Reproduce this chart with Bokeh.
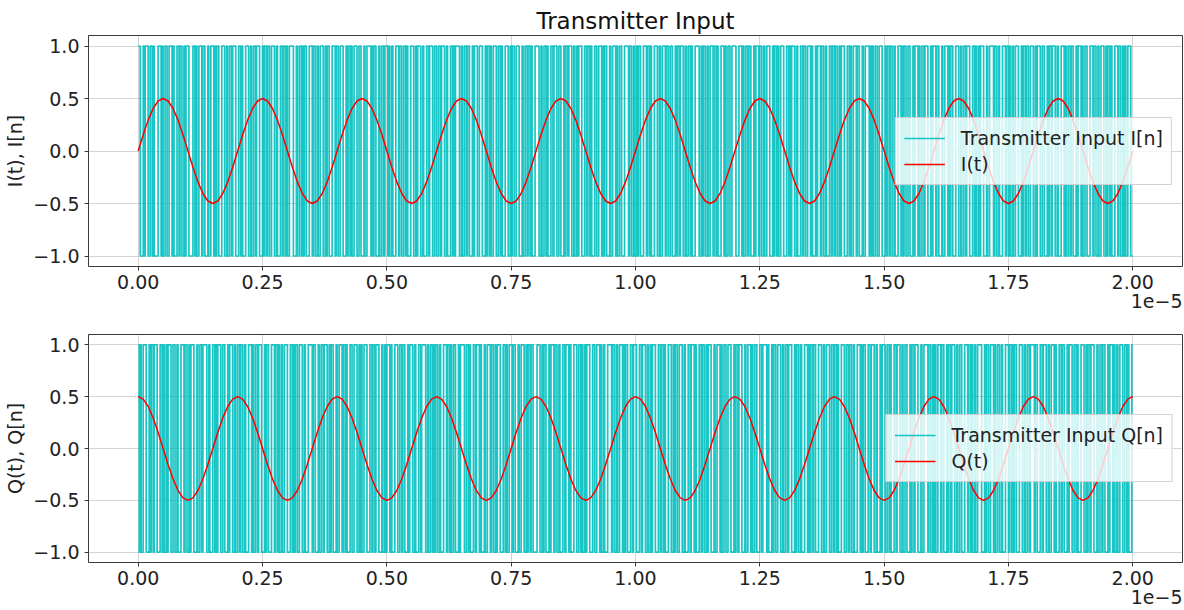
import numpy as np
from bokeh.plotting import figure
from bokeh.layouts import column
from bokeh.models import (FixedTicker, CustomJSTickFormatter, Range1d, Title,
                          Legend, LegendItem)
from bokeh.embed import file_html
from bokeh.resources import INLINE

# ---------------- data ----------------
T_END = 2e-5
x_ticks = [0.0, 0.25e-5, 0.5e-5, 0.75e-5, 1.0e-5, 1.25e-5, 1.5e-5, 1.75e-5, 2.0e-5]
y_ticks = [-1.0, -0.5, 0.0, 0.5, 1.0]

I_t = [
    0, .155, .294, .405, .476, .5, .476, .405, .294, .155, 0, -.155, -.294, -.405, -.476, -.5, -.476, -.405, -.294, -.155,
    0, .155, .294, .405, .476, .5, .476, .405, .294, .155, 0, -.155, -.294, -.405, -.476, -.5, -.476, -.405, -.294, -.155,
    0, .155, .294, .405, .476, .5, .476, .405, .294, .155, 0, -.155, -.294, -.405, -.476, -.5, -.476, -.405, -.294, -.155,
    0, .155, .294, .405, .476, .5, .476, .405, .294, .155, 0, -.155, -.294, -.405, -.476, -.5, -.476, -.405, -.294, -.155,
    0, .155, .294, .405, .476, .5, .476, .405, .294, .155, 0, -.155, -.294, -.405, -.476, -.5, -.476, -.405, -.294, -.155,
    0, .155, .294, .405, .476, .5, .476, .405, .294, .155, 0, -.155, -.294, -.405, -.476, -.5, -.476, -.405, -.294, -.155,
    0, .155, .294, .405, .476, .5, .476, .405, .294, .155, 0, -.155, -.294, -.405, -.476, -.5, -.476, -.405, -.294, -.155,
    0, .155, .294, .405, .476, .5, .476, .405, .294, .155, 0, -.155, -.294, -.405, -.476, -.5, -.476, -.405, -.294, -.155,
    0, .155, .294, .405, .476, .5, .476, .405, .294, .155, 0, -.155, -.294, -.405, -.476, -.5, -.476, -.405, -.294, -.155,
    0, .155, .294, .405, .476, .5, .476, .405, .294, .155, 0, -.155, -.294, -.405, -.476, -.5, -.476, -.405, -.294, -.155,
    0,
]

Q_t = [
    .5, .476, .405, .294, .155, 0, -.155, -.294, -.405, -.476, -.5, -.476, -.405, -.294, -.155, 0, .155, .294, .405, .476,
    .5, .476, .405, .294, .155, 0, -.155, -.294, -.405, -.476, -.5, -.476, -.405, -.294, -.155, 0, .155, .294, .405, .476,
    .5, .476, .405, .294, .155, 0, -.155, -.294, -.405, -.476, -.5, -.476, -.405, -.294, -.155, 0, .155, .294, .405, .476,
    .5, .476, .405, .294, .155, 0, -.155, -.294, -.405, -.476, -.5, -.476, -.405, -.294, -.155, 0, .155, .294, .405, .476,
    .5, .476, .405, .294, .155, 0, -.155, -.294, -.405, -.476, -.5, -.476, -.405, -.294, -.155, 0, .155, .294, .405, .476,
    .5, .476, .405, .294, .155, 0, -.155, -.294, -.405, -.476, -.5, -.476, -.405, -.294, -.155, 0, .155, .294, .405, .476,
    .5, .476, .405, .294, .155, 0, -.155, -.294, -.405, -.476, -.5, -.476, -.405, -.294, -.155, 0, .155, .294, .405, .476,
    .5, .476, .405, .294, .155, 0, -.155, -.294, -.405, -.476, -.5, -.476, -.405, -.294, -.155, 0, .155, .294, .405, .476,
    .5, .476, .405, .294, .155, 0, -.155, -.294, -.405, -.476, -.5, -.476, -.405, -.294, -.155, 0, .155, .294, .405, .476,
    .5, .476, .405, .294, .155, 0, -.155, -.294, -.405, -.476, -.5, -.476, -.405, -.294, -.155, 0, .155, .294, .405, .476,
    .5,
]

I_bits = (
    "1100010111001101000011101001100111010001101100101110000110100111011000100111010110001110010011011100"
    "0110100011100100110111000101101100111001000110110100111100010011010110001110110010011100101100011101"
    "1001110001011010011100110001001111010110001001101110100100011101100110100011100101110010001101110011"
    "0011011100100011010111100100110110001011100111000101101001110011010001110010110011100010011011010001"
    "1110010011010001101110011000101101110010010111000110110100011001110101100010011101001100011110110010"
    "0101100011101101000111001001110110011000101101110010011010001111001011001001110110100011101001100111"
    "1000111010011011000101110110010011100010110100111000110101110010001101100111010001011101100100011011"
    "0110010111000110100111011000100111101010011001110001011011001000111010110011000101110100110111000101"
    "1101100010011101011000111001001101110001101001011100010011110110010001110110100100111000101101100111"
    "0010111001100010110111001000111010011011000101110100110001110110010011100101101000111011001010011100"
)

Q_bits = (
    "1010011100010110111000110100101110011001000111011001011100010011011110010001101011100110001011100100"
    "1101100100011101001101110001011000111011010010011100011010110011100100011110110001001101110010110001"
    "0011101101000110011100101001110001101101110001001011101000111001101100010111001000110111100100110101"
    "1001000111011010011000101111001101000110111010001001110110010111000110100111011000100111001011011000"
    "0111001011000101110110010001101110100011100110100101110001100111010010001111011001001110101100011011"
    "1000110111001001011100011011010001110010110011100100011011101000110110010111000100111010011001110001"
    "0110111000100111010011000110111101000101100111001001101110001011001000111010110110001110010011100110"
    "1101000111001101100100011101011000110111001000101110011010001101110010011000101101110001001111011001"
    "0100111011000101101110010011000111011010010011110001011001110100110010001110110101100011100100110111"
    "1011000110111001001110100011011000101110011010001110010110111000100110110001011101001001110011010001"
)

TITLE = "Transmitter Input"
X_OFFSET_TEXT = "1e\u22125"
FONT = "DejaVu Sans"
CYAN = "#00bfbf"
RED = "#ff0000"


def bit_step(bits):
    vals = np.array([1.0 if c == "1" else -1.0 for c in bits])
    t = np.linspace(0.0, T_END, len(vals) + 1)
    return t, np.append(vals, vals[-1])


def make_fig(height, top, bottom, sine, bits, ylabel, lab_bits, lab_sine, title=None):
    p = figure(width=1184, height=height, output_backend="svg", toolbar_location=None,
               x_range=Range1d(-0.1e-5, 2.1e-5), y_range=Range1d(-1.1, 1.1),
               min_border_left=88, min_border_right=2, min_border_top=top,
               min_border_bottom=bottom, background_fill_color="white")
    p.outline_line_color = "#3a3a3a"
    p.outline_line_width = 1
    for ax in (p.xaxis, p.yaxis):
        ax.axis_line_color = None
        ax.major_tick_line_color = "#3a3a3a"
        ax.major_tick_out = 4
        ax.major_tick_in = 0
        ax.minor_tick_line_color = None
        ax.major_label_text_font = FONT
        ax.major_label_text_font_size = "19px"
        ax.major_label_text_color = "#222222"
    p.xaxis.ticker = FixedTicker(ticks=x_ticks)
    p.yaxis.ticker = FixedTicker(ticks=y_ticks)
    p.xaxis.formatter = CustomJSTickFormatter(code="return (tick*1e5).toFixed(2);")
    p.yaxis.formatter = CustomJSTickFormatter(
        code="var s = Math.abs(tick).toFixed(1); return (tick < -1e-9 ? '\u2212' : '') + s;")
    p.xaxis.major_label_standoff = 4
    p.yaxis.major_label_standoff = 5
    p.yaxis.axis_label = ylabel
    p.yaxis.axis_label_text_font = FONT
    p.yaxis.axis_label_text_font_size = "19px"
    p.yaxis.axis_label_text_font_style = "normal"
    p.yaxis.axis_label_text_color = "#222222"
    p.yaxis.axis_label_standoff = 4
    p.grid.grid_line_color = "#b0b0b0"
    p.grid.grid_line_alpha = 0.55
    p.grid.grid_line_width = 1

    tb, yb = bit_step(bits)
    r1 = p.step(tb, yb, mode="after", line_color=CYAN, line_width=1.7, line_alpha=0.9)
    ts = np.linspace(0.0, T_END, len(sine))
    r2 = p.line(ts, sine, line_color=RED, line_width=1.5)

    legend = Legend(items=[LegendItem(label=lab_bits, renderers=[r1]),
                           LegendItem(label=lab_sine, renderers=[r2])],
                    location="center_right")
    legend.label_text_font = FONT
    legend.label_text_font_size = "19px"
    legend.label_text_color = "#222222"
    legend.glyph_width = 41
    legend.glyph_height = 24
    legend.label_height = 24
    legend.label_standoff = 16
    legend.spacing = 2
    legend.padding = 8
    legend.margin = 10
    legend.background_fill_alpha = 0.8
    legend.border_line_color = "#cccccc"
    legend.border_line_alpha = 0.9
    p.add_layout(legend)

    off = Title(text=X_OFFSET_TEXT, align="right", text_font=FONT, text_font_size="19px",
                text_font_style="normal", text_color="#222222", standoff=0, offset=0)
    p.add_layout(off, "below")

    if title:
        p.title.text = title
        p.title.align = "center"
        p.title.text_font = FONT
        p.title.text_font_size = "23px"
        p.title.text_font_style = "normal"
        p.title.text_color = "#111111"
        p.title.standoff = 4
    return p


p1 = make_fig(322, 35, 56, I_t, I_bits, "I(t), I[n]",
              "Transmitter Input I[n]", "I(t)", title=TITLE)
p2 = make_fig(288, 12, 48, Q_t, Q_bits, "Q(t), Q[n]",
              "Transmitter Input Q[n]", "Q(t)")

layout = column(p1, p2, spacing=0)
open("out.html", "w").write(file_html(layout, INLINE))
